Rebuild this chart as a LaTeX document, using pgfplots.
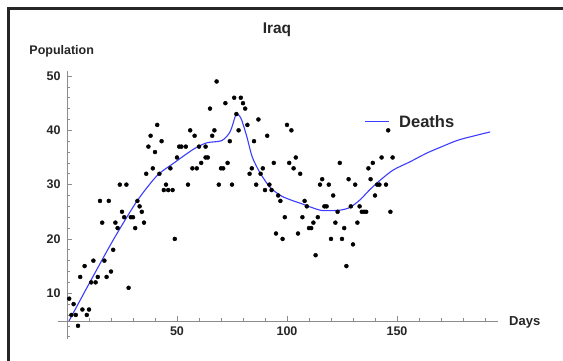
\documentclass[border=0pt]{standalone}
\usepackage{fontspec}
\setmainfont{Liberation Sans}
\usepackage{pgfplots}
\pgfplotsset{compat=1.18}
\definecolor{axisgray}{HTML}{8C8C8C}
\definecolor{fitblue}{HTML}{3C3CFF}
\definecolor{labelgray}{HTML}{262626}

% daily counts
\pgfplotstableread{
x y
1 9
2 6
3 8
4 6
5 4
6 13
7 7
8 15
9 6
10 7
11 12
12 16
13 12
14 13
15 27
16 23
17 16
18 13
19 27
20 14
21 18
22 23
23 22
24 30
25 25
26 24
27 30
28 11
29 24
30 24
31 22
32 27
33 26
34 25
35 23
36 32
37 37
38 39
39 33
40 36
41 41
42 32
43 38
44 29
45 30
46 29
47 33
48 29
49 20
50 35
51 37
52 37
54 37
55 30
56 40
57 33
58 39
59 33
60 37
61 34
63 35
64 35
63 37
65 44
66 39
67 40
68 49
69 30
70 33
71 33
72 45
73 34
74 38
75 30
76 46
77 43
78 40
79 46
80 45
81 44
82 41
83 32
84 33
85 38
86 30
87 42
88 32
89 33
90 29
91 39
92 30
93 29
94 34
95 21
96 28
97 27
98 20
99 24
100 41
101 34
102 40
103 33
104 35
105 21
106 32
107 24
108 27
109 26
110 22
111 22
112 23
113 17
114 24
115 30
116 31
117 26
118 26
119 30
120 20
121 28
122 23
123 25
124 34
125 20
126 22
127 15
128 31
129 26
130 19
131 30
132 23
133 26
134 25
135 25
136 25
137 33
138 31
139 34
140 28
141 30
142 30
143 35
145 30
146 40
147 25
148 35
}\counts

% fitted model curve
\pgfplotstableread{
x y
0.9 4.9
10.5 12.1
21 19.8
31.7 26.9
40.8 31.6
48.3 33.9
57.4 36.5
63.5 37.7
70.3 38.1
74.1 39.7
76.4 42.5
77.1 43.0
78.3 42.7
79.4 41.9
81.7 38.9
84.2 35.1
87.7 32.2
92.3 29.5
97.5 27.9
102.9 27.0
105.9 26.6
110.5 25.9
115 25.3
118 25.2
124.1 25.3
128.6 25.8
133.2 27.2
137.7 29.1
142.3 30.8
148.3 32.7
155.9 34.2
163.5 35.8
171 37.1
178.6 38.3
192.3 39.7
}\model

\begin{document}
\begin{tikzpicture}[x=1pt,y=1pt]
\path[use as bounding box] (0,0) rectangle (563,361);
\draw[line width=2.6pt, color=black!85] (8.5,-5) -- (8.5,352.5) -- (570,352.5);
\begin{axis}[
  at={(58.2pt,21.6pt)}, anchor=south west,
  scale only axis, width=440pt, height=268.8pt,
  xmin=-4, xmax=196, ymin=1.5, ymax=51,
  axis lines=middle,
  axis x line shift=-17.9pt,
  axis line style={axisgray, line width=0.8pt, -},
  xtick={50,100,150},
  ytick={10,20,30,40,50},
  minor xtick={10,20,30,40,60,70,80,90,110,120,130,140,160,170,180,190},
  minor ytick={2,4,6,8,12,14,16,18,22,24,26,28,32,34,36,38,42,44,46,48},
  tick align=inside,
  major tick length=5pt, minor tick length=3pt,
  tick style={axisgray, line width=0.6pt},
  /pgf/number format/assume math mode=true,
  ticklabel style={font=\bfseries\fontsize{12.5}{13}\selectfont, text=labelgray},
  yticklabel style={xshift=-3pt},
  xticklabel style={yshift=-2pt},
  clip=false,
]
\addplot[only marks, mark=*, mark size=2pt, black] table[x=x, y=y] {\counts};
\addplot[fitblue, line width=1.1pt, smooth, tension=0.45] table[x=x, y=y] {\model};
% legend key for the fitted curve
\draw[fitblue, line width=1.2pt] (axis cs:135.5,41.6) -- (axis cs:146.4,41.6);
\node[anchor=west, inner sep=0pt, font=\bfseries\fontsize{16.5}{17}\selectfont, text=labelgray]
  at (axis cs:150.9,41.6) {Deaths};
\end{axis}
\node[font=\bfseries\fontsize{15.5}{16}\selectfont, text=labelgray] at (277,331) {Iraq};
\node[font=\bfseries\fontsize{12.5}{13}\selectfont, text=labelgray] at (61.7,309.3) {Population};
\node[font=\bfseries\fontsize{13}{13}\selectfont, text=labelgray, anchor=base west, inner sep=0pt] at (509,35) {Days};
\end{tikzpicture}
\end{document}
